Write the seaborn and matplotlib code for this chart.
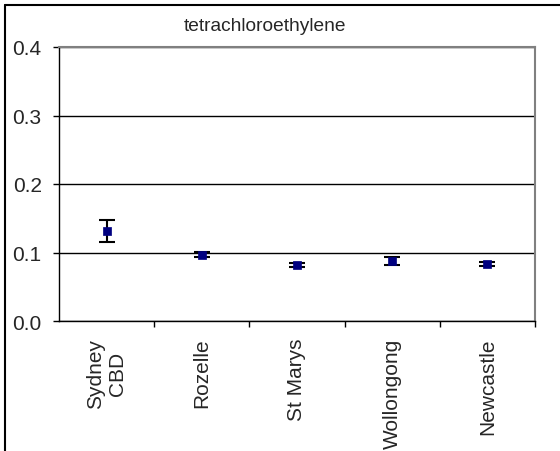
import matplotlib
matplotlib.use("Agg")
import matplotlib.pyplot as plt
import seaborn as sns
import numpy as np
import pandas as pd
from matplotlib.lines import Line2D

# dados
locais = ["Sydney\nCBD", "Rozelle", "St Marys", "Wollongong", "Newcastle"]
media = [0.131, 0.097, 0.082, 0.088, 0.083]
erro = [0.016, 0.004, 0.003, 0.006, 0.003]
yticks = [0.0, 0.1, 0.2, 0.3, 0.4]
titulo = "tetrachloroethylene"

df = pd.DataFrame({"local": locais, "media": media, "erro": erro})

sns.set_style("white")
plt.rcParams["font.family"] = ["Liberation Sans", "DejaVu Sans"]

fig = plt.figure(figsize=(5.6, 4.52), dpi=100)
ax = fig.add_axes([59 / 560, 1 - 322 / 452, 476 / 560, 274 / 452])

pos = np.arange(len(locais))
ax.errorbar(pos, df["media"], yerr=df["erro"], fmt="none", ecolor="black",
            elinewidth=1.5, capsize=5.5, capthick=1.5, zorder=2)
sns.scatterplot(data=df, x="local", y="media", marker="s", color="#000080",
                s=38, edgecolor="#000080", linewidth=0.5, ax=ax, zorder=3,
                legend=False)

ax.set_xlim(-0.5, len(locais) - 0.5)
ax.set_ylim(0, 0.4)
ax.set_yticks(yticks)
ax.set_yticklabels([f"{v:.1f}" for v in yticks], fontsize=15)
ax.set_xticks(pos)
ax.set_xticklabels(locais, rotation=90, fontsize=15, ha="center",
                   va="top", multialignment="center")
ax.set_xticks(np.arange(len(locais)) + 0.5, minor=True)
ax.tick_params(axis="x", which="major", length=0, pad=12)
ax.tick_params(axis="x", which="minor", length=4.5, width=1, color="black",
               direction="out", bottom=True)
ax.tick_params(axis="y", length=4.5, width=1, color="black", pad=8, left=True)
ax.set_xlabel("")
ax.set_ylabel("")

ax.grid(axis="y", color="black", linewidth=1)
ax.set_axisbelow(True)
for lado in ["top", "right"]:
    ax.spines[lado].set_color("#808080")
    ax.spines[lado].set_linewidth(1.5)
for lado in ["left", "bottom"]:
    ax.spines[lado].set_color("black")
    ax.spines[lado].set_linewidth(1)

fig.text(264.5 / 560, 1 - 31 / 452, titulo, fontsize=13.8, ha="center",
         va="baseline")

# moldura externa
fig.add_artist(Line2D([5 / 560, 5 / 560], [0, 1 - 6 / 452], color="black",
                      linewidth=1.5, transform=fig.transFigure))
fig.add_artist(Line2D([5 / 560, 1], [1 - 6 / 452, 1 - 6 / 452], color="black",
                      linewidth=1.5, transform=fig.transFigure))

fig.savefig("out.png", dpi=100)
